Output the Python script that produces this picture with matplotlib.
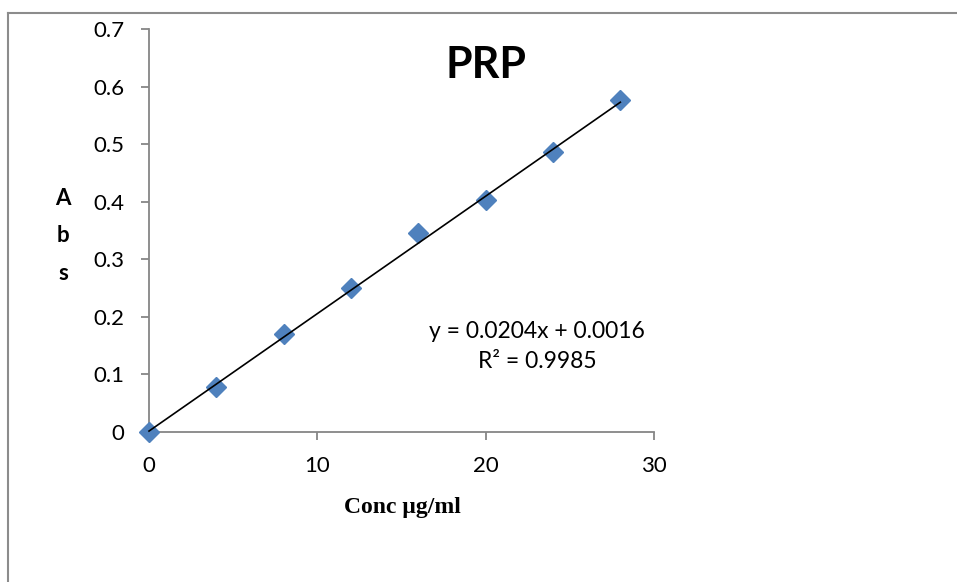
import numpy as np
import matplotlib.pyplot as plt
from matplotlib.lines import Line2D

conc = [0, 4, 8, 12, 16, 20, 24, 28]
absorbance = [0.0, 0.078, 0.171, 0.250, 0.346, 0.403, 0.486, 0.576]
slope = 0.0204
intercept = 0.0016
r_squared = 0.9985

plt.rcParams['font.family'] = ['Lato', 'DejaVu Sans']

fig = plt.figure(figsize=(9.57, 5.82), dpi=100)
ax = fig.add_axes([149 / 957, 1 - 432 / 582, (654 - 149) / 957, (432 - 29) / 582])

# calibration points and linear trendline
ax.plot(conc, absorbance, linestyle='none', marker='D', markersize=10,
        color='#4F81BD', zorder=3, clip_on=False)
xs = np.array([conc[0], conc[-1]])
ax.plot(xs, slope * xs + intercept, color='black', linewidth=1.2, zorder=4,
        clip_on=False)

ax.set_xlim(0, 30)
ax.set_ylim(0, 0.7)
ax.set_xticks([0, 10, 20, 30])
ax.set_yticks(np.arange(0, 0.71, 0.1))
ax.set_yticklabels(['0'] + [f'{v:.1f}' for v in np.arange(0.1, 0.71, 0.1)])

for side in ['top', 'right']:
    ax.spines[side].set_visible(False)
for side in ['left', 'bottom']:
    ax.spines[side].set_color('#868686')
    ax.spines[side].set_linewidth(1.3)
ax.tick_params(axis='both', colors='#868686', labelcolor='black', labelsize=16,
               length=6, width=1.3, direction='out')
ax.tick_params(axis='y', pad=12)
ax.tick_params(axis='x', pad=11)

fig.text(486 / 957, 1 - 65 / 582, 'PRP', fontsize=31, fontweight='bold',
         ha='center', va='center')
fig.text(402 / 957, 1 - 508 / 582, 'Conc µg/ml', fontsize=17, fontweight='bold',
         family=['Liberation Serif', 'DejaVu Serif'], ha='center', va='center')
fig.text(63 / 957, 1 - 236 / 582, 'A\nb\ns', fontsize=16, fontweight='bold',
         ha='center', va='center', linespacing=1.95)

fig.text(537 / 957, 1 - 331 / 582, f'y = {slope}x + {intercept}', fontsize=16.5,
         ha='center', va='center')
fig.text(537 / 957, 1 - 362 / 582, f'R² = {r_squared}', fontsize=16.5,
         ha='center', va='center')

# outer chart frame
fig.add_artist(Line2D([8 / 957, 8 / 957], [0, 1 - 13 / 582], color='#8c8c8c',
                      linewidth=1.5, transform=fig.transFigure))
fig.add_artist(Line2D([8 / 957, 1], [1 - 13 / 582, 1 - 13 / 582], color='#8c8c8c',
                      linewidth=1.5, transform=fig.transFigure))

fig.savefig('out.png', dpi=100)
